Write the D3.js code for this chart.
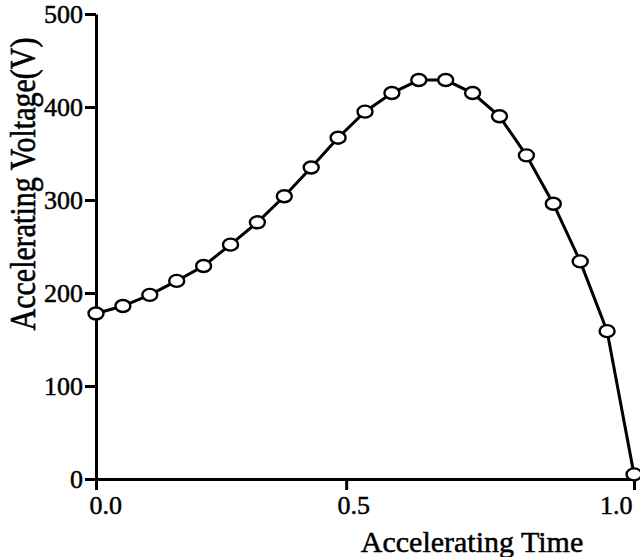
<html>
<head>
    <title>Accelerating Voltage</title>
    <script src="https://d3js.org/d3.v7.min.js"></script>
    <style>
        body { margin: 0; background: #fff; }
        text { font-family: "Liberation Serif", "Times New Roman", serif; fill: #000; stroke: #000; stroke-width: 0.5px; }
    </style>
</head>
<body>
    <svg id="chart"></svg>
    <script>
        // accelerating time (normalised) and voltage
        var times = [0, 0.05, 0.1, 0.15, 0.2, 0.25, 0.3, 0.35, 0.4, 0.45, 0.5,
                     0.55, 0.6, 0.65, 0.7, 0.75, 0.8, 0.85, 0.9, 0.95, 1.0];
        var voltages = [178, 186, 198, 213, 229, 252, 276, 304, 335, 367, 395,
                        415, 429, 429, 415, 390, 348, 296, 234, 159, 5];
        var yTicks = [0, 100, 200, 300, 400, 500];
        // the printed 0.5 tick sits a little left of the half-way mark
        var xTicks = [0, 0.465, 1];
        var xTickLabels = ["0.0", "0.5", "1.0"];

        var width = 640, height = 557;
        var x = d3.scaleLinear().domain([0, 1]).range([96, 634]);
        var y = d3.scaleLinear().domain([0, 500]).range([479, 14]);

        var svg = d3.select("#chart").attr("width", width).attr("height", height);

        var yAxis = svg.append("g")
            .attr("transform", "translate(" + x(0) + ",0)")
            .call(d3.axisLeft(y).tickValues(yTicks).tickSize(11).tickSizeOuter(0).tickPadding(2));
        yAxis.selectAll("text").style("font-size", "26px");

        var xAxis = svg.append("g")
            .attr("transform", "translate(0," + y(0) + ")")
            .call(d3.axisBottom(x).tickValues(xTicks).tickSize(11).tickSizeOuter(0).tickPadding(6)
                .tickFormat(function (d, i) { return xTickLabels[i]; }));
        xAxis.selectAll("text").style("font-size", "26px")
            .attr("text-anchor", function (d, i) { return i == 0 ? "start" : (i == 2 ? "end" : "middle"); })
            .attr("dx", function (d, i) { return i == 0 ? -7 : (i == 2 ? -2 : 7); });

        svg.selectAll(".domain, .tick line").attr("stroke", "#000").attr("stroke-width", 3);

        var pts = times.map(function (t, i) { return [t, voltages[i]]; });
        svg.append("path")
            .datum(pts)
            .attr("fill", "none")
            .attr("stroke", "#000")
            .attr("stroke-width", 3)
            .attr("d", d3.line().x(function (d) { return x(d[0]); }).y(function (d) { return y(d[1]); }));

        svg.selectAll("ellipse")
            .data(pts)
            .enter()
            .append("ellipse")
            .attr("cx", function (d) { return x(d[0]); })
            .attr("cy", function (d) { return y(d[1]); })
            .attr("rx", 7.5)
            .attr("ry", 6)
            .attr("fill", "#fff")
            .attr("stroke", "#000")
            .attr("stroke-width", 2.4);

        svg.append("text")
            .attr("transform", "translate(35,184) rotate(-90) scale(1,1.2)")
            .attr("text-anchor", "middle")
            .style("font-size", "30px")
            .text("Accelerating Voltage(V)");

        svg.append("text")
            .attr("x", 472)
            .attr("y", 552)
            .attr("text-anchor", "middle")
            .style("font-size", "30px")
            .text("Accelerating Time");
    </script>
</body>
</html>
